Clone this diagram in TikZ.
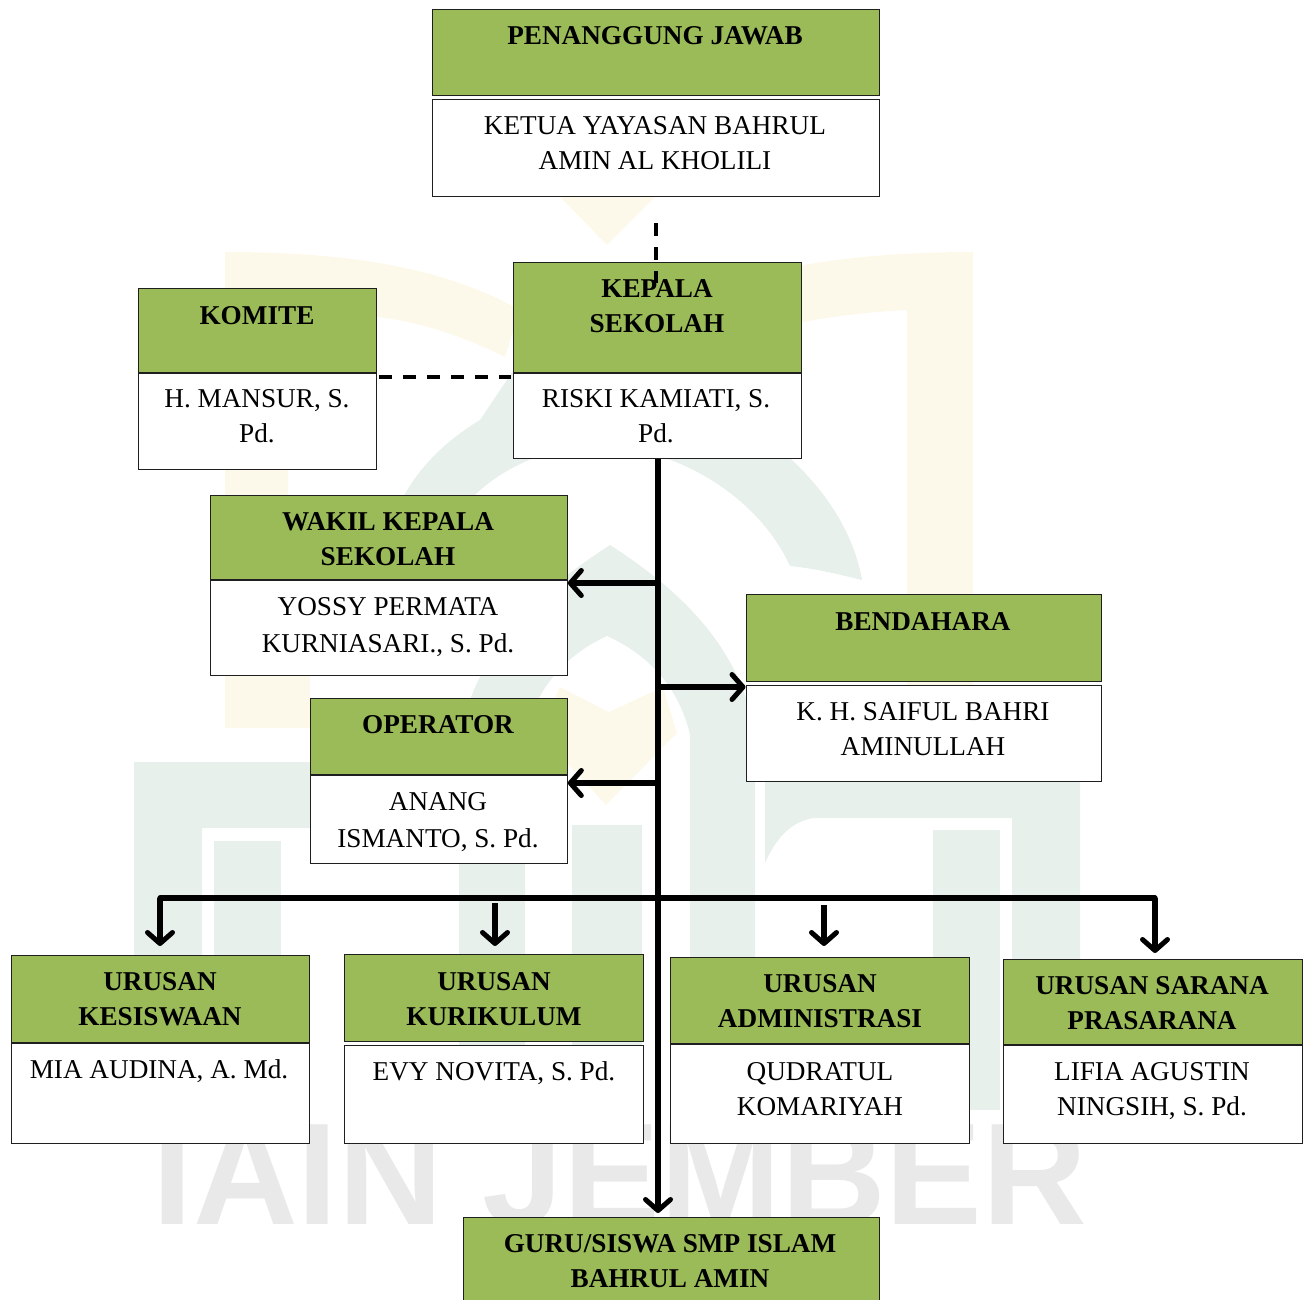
\documentclass[tikz,border=0pt]{standalone}
\usepackage{fontspec}
\setmainfont{Liberation Serif}
\newfontfamily\wmfont{Liberation Sans}
\usetikzlibrary{arrows.meta}
\definecolor{boxgreen}{HTML}{9BBB59}
\definecolor{wmyellow}{HTML}{FDF9EA}
\definecolor{wmgreen}{HTML}{E7F0EB}
\definecolor{wmgray}{HTML}{E9E9E9}
\tikzset{
  x=1pt,y=-1pt,
  greenbox/.style={draw=black!88,line width=1pt,fill=boxgreen,inner sep=0pt,anchor=north west},
  whitebox/.style={draw=black!88,line width=1pt,fill=white,inner sep=0pt,anchor=north west},
  headtext/.style={font=\fontsize{27.2}{35}\selectfont\bfseries,align=center,anchor=north,inner sep=0pt,text=black},
  nametext/.style={font=\fontsize{27.2}{35}\selectfont,align=center,anchor=north,inner sep=0pt,text=black},
  trunk/.style={line width=5.3pt,draw=black},
  link/.style={line width=5.3pt,draw=black,-{Straight Barb[length=11pt,width=25pt,line width=5pt,round]}},
  dashlink/.style={line width=3.4pt,draw=black,dash pattern=on 13pt off 11pt},
  wmy/.style={fill=wmyellow,draw=none},
  wmg/.style={fill=wmgreen,draw=none}
}
% name, x1, y1, x2, y2, style
\newcommand{\orgbox}[6]{\node[#6,minimum width=#4pt-#2pt-0.7pt,minimum height=#5pt-#3pt-0.7pt] (#1) at (#2-0.5,#3-0.5) {};}
% name, cx, first baseline, style, text (top of strut = baseline - 24.5)
\newcommand{\orgtext}[5]{\node[#4] (#1) at (#2,#3-25) {#5};}
\begin{document}
\begin{tikzpicture}
\useasboundingbox (0,0) rectangle (1309,1299);
% watermark
\fill[wmy] (560,197) -- (655,197) -- (607,245) -- cycle;
\fill[wmy] (225,252) .. controls (340,252) and (440,265) .. (520,310) -- (505,357) .. controls (460,335) and (420,322) .. (377,317) -- (288,315) -- (288,675) -- (310,675) -- (310,728) -- (225,728) -- cycle;
\fill[wmy] (760,275) .. controls (820,258) and (900,252) .. (973,252) -- (973,690) -- (907,690) -- (907,310) .. controls (870,312) and (830,316) .. (790,325) -- cycle;
\fill[wmy] (539,733) -- (560,687) -- (609,712) -- (663,687) -- (677,733) -- (606,805) -- cycle;
% crescent
\fill[wmg] (385,570) .. controls (385,500) and (430,450) .. (480,420) -- (515,368) -- (600,330) -- (700,400) .. controls (790,440) and (850,510) .. (862,580) .. controls (830,572) and (810,568) .. (790,566) .. controls (760,500) and (680,445) .. (590,445) .. controls (520,450) and (440,500) .. (440,570) -- cycle;
% arch
\fill[wmg] (459,1110) -- (459,740) .. controls (475,650) and (540,590) .. (610,545) .. controls (680,590) and (745,650) .. (755,740) -- (755,1110) -- (690,1110) -- (690,735) .. controls (680,690) and (650,655) .. (607,636) .. controls (565,655) and (535,690) .. (525,735) -- (525,1110) -- cycle;
% base frame and bars
\fill[wmg] (134,762) -- (450,762) -- (450,828) -- (202,828) -- (202,1110) -- (134,1110) -- cycle;
\fill[wmg] (214,841) -- (281,841) -- (281,1110) -- (214,1110) -- cycle;
\fill[wmg] (572,825) -- (642,825) -- (642,1110) -- (572,1110) -- cycle;
\fill[wmg] (765,762) -- (1080,762) -- (1080,1110) -- (1012,1110) -- (1012,818) -- (813,818) .. controls (790,822) and (775,840) .. (765,863) -- cycle;
\fill[wmg] (933,830) -- (1000,830) -- (1000,1110) -- (933,1110) -- cycle;
\node[inner sep=0pt,anchor=base,text=wmgray,font=\fontsize{145}{145}\selectfont\wmfont\bfseries] (wm) at (620,1224) {IAIN JEMBER};
% boxes
\orgbox{pjh}{432}{9}{880}{96}{greenbox}
\orgbox{pjb}{432}{99}{880}{197}{whitebox}
\orgbox{ksh}{513}{262}{802}{373}{greenbox}
\orgbox{ksb}{513}{373}{802}{459}{whitebox}
\orgbox{komh}{138}{288}{377}{373}{greenbox}
\orgbox{komb}{138}{373}{377}{470}{whitebox}
\orgbox{wkh}{210}{495}{568}{580}{greenbox}
\orgbox{wkb}{210}{580}{568}{676}{whitebox}
\orgbox{beh}{746}{594}{1102}{682}{greenbox}
\orgbox{beb}{746}{685}{1102}{782}{whitebox}
\orgbox{oph}{310}{698}{568}{775}{greenbox}
\orgbox{opb}{310}{775}{568}{864}{whitebox}
\orgbox{kih}{11}{955}{310}{1043}{greenbox}
\orgbox{kib}{11}{1043}{310}{1144}{whitebox}
\orgbox{kuh}{344}{954}{644}{1042}{greenbox}
\orgbox{kub}{344}{1045}{644}{1144}{whitebox}
\orgbox{adh}{670}{957}{970}{1044}{greenbox}
\orgbox{adb}{670}{1044}{970}{1144}{whitebox}
\orgbox{sah}{1003}{959}{1303}{1045}{greenbox}
\orgbox{sab}{1003}{1045}{1303}{1144}{whitebox}
\orgbox{guh}{463}{1217}{880}{1310}{greenbox}
% texts
\orgtext{tpjh}{655}{45}{headtext}{\strut PENANGGUNG JAWAB}
\orgtext{tpjb}{655}{135}{nametext}{\strut KETUA YAYASAN BAHRUL\\\strut AMIN AL KHOLILI}
\orgtext{tksh}{657}{298}{headtext}{\strut KEPALA\\\strut SEKOLAH}
\orgtext{tksb}{656}{408}{nametext}{\strut RISKI KAMIATI, S.\\\strut Pd.}
\orgtext{tkomh}{257}{325}{headtext}{\strut KOMITE}
\orgtext{tkomb}{257}{408}{nametext}{\strut H. MANSUR, S.\\\strut Pd.}
\orgtext{twkh}{388}{531}{headtext}{\strut WAKIL KEPALA\\\strut SEKOLAH}
\orgtext{twkb}{388}{616}{nametext}{\strut YOSSY PERMATA\\[2pt]\strut KURNIASARI., S. Pd.}
\orgtext{tbeh}{923}{631}{headtext}{\strut BENDAHARA}
\orgtext{tbeb}{923}{721}{nametext}{\strut K. H. SAIFUL BAHRI\\\strut AMINULLAH}
\orgtext{toph}{438}{734}{headtext}{\strut OPERATOR}
\orgtext{topb}{438}{811}{nametext}{\strut ANANG\\[2pt]\strut ISMANTO, S. Pd.}
\orgtext{tkih}{160}{991}{headtext}{\strut URUSAN\\\strut KESISWAAN}
\orgtext{tkib}{159}{1079}{nametext}{\strut MIA AUDINA, A. Md.}
\orgtext{tkuh}{494}{991}{headtext}{\strut URUSAN\\\strut KURIKULUM}
\orgtext{tkub}{494}{1081}{nametext}{\strut EVY NOVITA, S. Pd.}
\orgtext{tadh}{820}{993}{headtext}{\strut URUSAN\\\strut ADMINISTRASI}
\orgtext{tadb}{820}{1081}{nametext}{\strut QUDRATUL\\\strut KOMARIYAH}
\orgtext{tsah}{1152}{995}{headtext}{\strut URUSAN SARANA\\\strut PRASARANA}
\orgtext{tsab}{1152}{1081}{nametext}{\strut LIFIA AGUSTIN\\\strut NINGSIH, S. Pd.}
\orgtext{tguh}{670}{1253}{headtext}{\strut GURU/SISWA SMP ISLAM\\\strut BAHRUL AMIN}
% connector anchors
\coordinate (pjgap) at (656,223);
\coordinate (ksin) at (656,283);
\coordinate (koml) at (379,377);
\coordinate (ksl) at (511,377);
\coordinate (tr) at (658,459);
\coordinate (wkj) at (658,583);
\coordinate (bej) at (658,687);
\coordinate (opj) at (658,783);
\coordinate (busl) at (160,898);
\coordinate (busr) at (1155,898);
\coordinate (kuin) at (495,903);
\coordinate (adin) at (824,905);
\coordinate (kitip) at (160,946);
\coordinate (kutip) at (495,946);
\coordinate (adtip) at (824,946);
\coordinate (satip) at (1155,953);
\coordinate (gutip) at (658,1213);
% dashed links
\draw[dashlink] (pjgap) -- (ksin);
\draw[dashlink] (koml) -- (ksl);
% trunk and arrows
\draw[link] (tr) -- (gutip);
\draw[trunk,line cap=round] (busl) -- (busr);
\draw[link] (wkj) -- (wkj -| wkb.east);
\draw[link] (bej) -- (bej -| beb.west);
\draw[link] (opj) -- (opj -| opb.east);
\draw[link] (busl) -- (kitip);
\draw[link] (kuin) -- (kutip);
\draw[link] (adin) -- (adtip);
\draw[link] (busr) -- (satip);
\end{tikzpicture}
\end{document}
